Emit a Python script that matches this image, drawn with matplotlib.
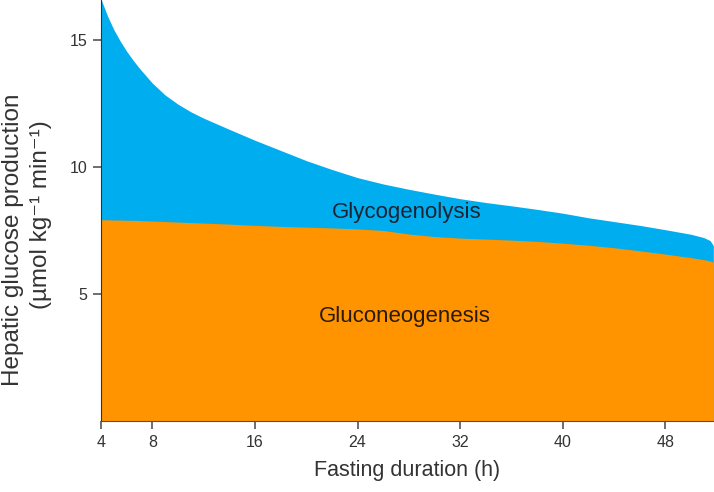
import matplotlib.pyplot as plt

plt.rcParams['font.family'] = ['Liberation Sans', 'DejaVu Sans']

# Fasting duration (h)
hours = [4, 4.5, 5, 5.5, 6, 6.5, 7, 8, 9, 10, 11, 12, 14, 16, 18, 20, 22, 24, 26, 28,
         30, 32, 34, 36, 38, 40, 42, 44, 46, 48, 50, 51, 51.5, 51.75]
# Total hepatic glucose production (umol kg-1 min-1)
total = [16.6, 15.95, 15.4, 14.95, 14.55, 14.2, 13.88, 13.3, 12.83, 12.47, 12.17, 11.92,
         11.48, 11.05, 10.65, 10.25, 9.9, 9.58, 9.33, 9.12, 8.93, 8.75, 8.6, 8.47, 8.33,
         8.18, 8.0, 7.85, 7.7, 7.53, 7.35, 7.22, 7.1, 6.9]
# Gluconeogenesis part
gng = [7.92, 7.92, 7.91, 7.91, 7.9, 7.9, 7.89, 7.87, 7.85, 7.83, 7.81, 7.79, 7.75, 7.7,
       7.66, 7.63, 7.6, 7.56, 7.5, 7.36, 7.26, 7.2, 7.16, 7.12, 7.07, 7.0, 6.92, 6.82,
       6.7, 6.57, 6.43, 6.35, 6.3, 6.25]

xticks = [4, 8, 16, 24, 32, 40, 48]
yticks = [5, 10, 15]

blue = '#00AEEF'
orange = '#FF9300'

fig = plt.figure(figsize=(7.14, 4.92), dpi=100)
ax = fig.add_axes([0.1415, 0.1443, 0.8585, 0.8557])

ax.fill_between(hours, 0, total, color=blue, lw=0)
ax.fill_between(hours, 0, gng, color=orange, lw=0)

ax.set_xlim(4, 51.8)
ax.set_ylim(0, 16.57)

ax.set_xticks(xticks)
ax.set_yticks(yticks)

for s in ['top', 'right']:
    ax.spines[s].set_visible(False)
ax.spines['left'].set_color('#333333')
ax.spines['bottom'].set_color('#6a4a2a')
ax.tick_params(direction='out', length=6, width=1.2, color='#555555',
               labelsize=11.5, labelcolor='#333333', pad=4)

ax.set_xlabel('Fasting duration (h)', fontsize=15.5, color='#333333', labelpad=7)

# two-line y label, each line placed on its own
fig.text(0.0185, 0.512, 'Hepatic glucose production', rotation=90, fontsize=17.5,
         color='#333333', ha='center', va='center')
fig.text(0.057, 0.563, '(µmol kg⁻¹ min⁻¹)', rotation=90, fontsize=17.5,
         color='#333333', ha='center', va='center')

ax.text(27.8, 8.2, 'Glycogenolysis', fontsize=16, color='#1c2333',
        ha='center', va='center')
ax.text(27.7, 4.1, 'Gluconeogenesis', fontsize=16, color='#2a1a0a',
        ha='center', va='center')

fig.savefig('out.png', dpi=100)
